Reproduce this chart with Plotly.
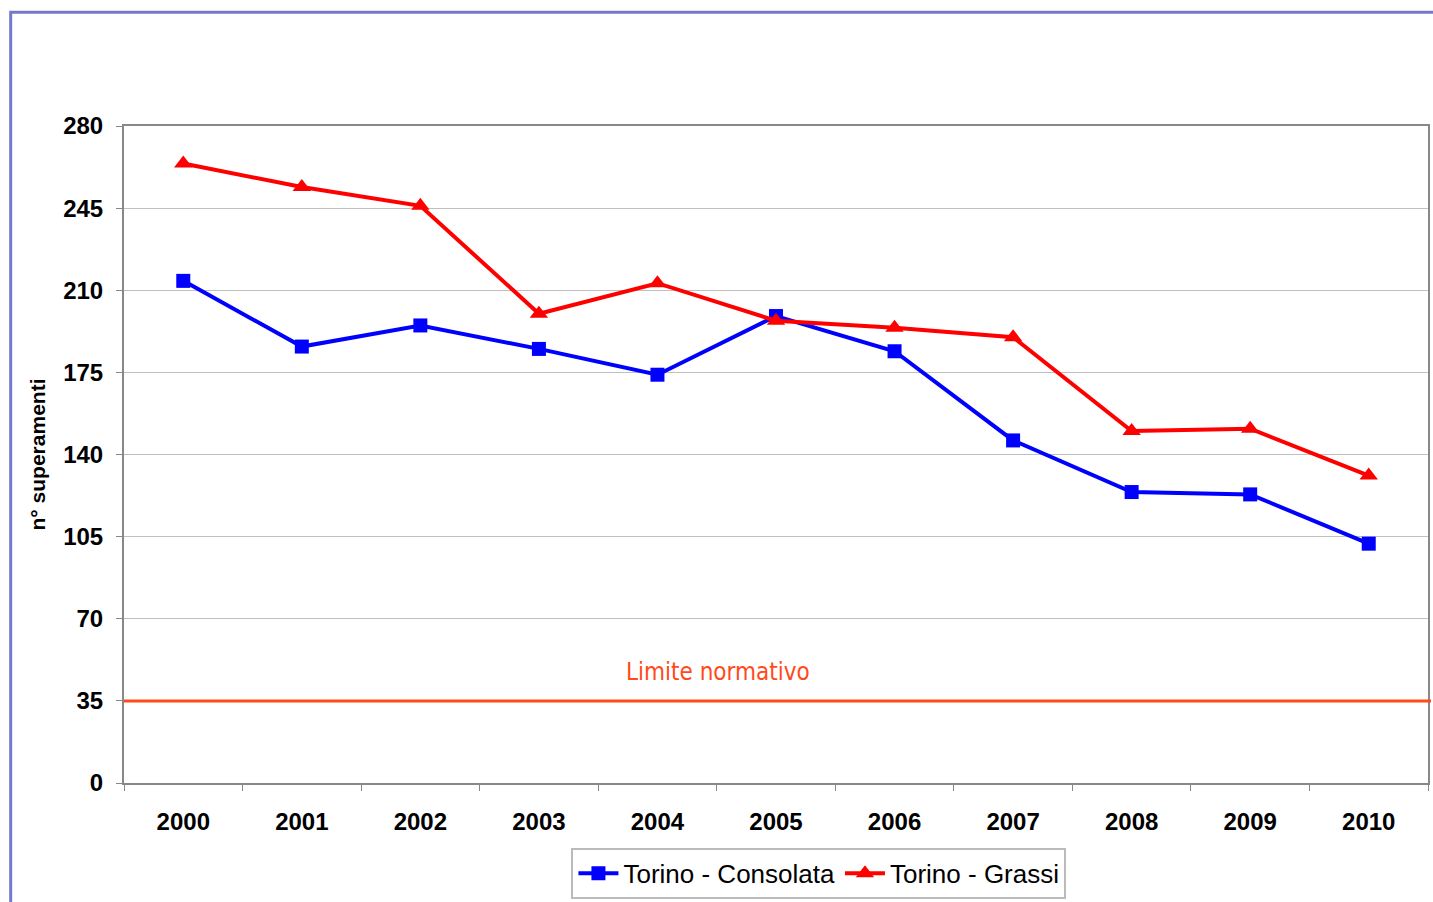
import plotly.graph_objects as go

years = ["2000", "2001", "2002", "2003", "2004", "2005", "2006", "2007", "2008", "2009", "2010"]
consolata = [214, 186, 195, 185, 174, 199, 184, 146, 124, 123, 102]
grassi = [264, 254, 246, 200, 213, 197, 194, 190, 150, 151, 131]
limite = 35
y_ticks = [0, 35, 70, 105, 140, 175, 210, 245, 280]

W, H = 1433, 902
L, R, T, B = 124, 1430, 126, 784


def px_x(x):
    return (x - L) / (R - L)


def px_y(y):
    return 1 - (y - T) / (B - T)


fig = go.Figure()
fig.add_trace(go.Scatter(
    x=years, y=consolata, mode="lines+markers", name="Torino - Consolata",
    line=dict(color="#0000FF", width=4),
    marker=dict(symbol="square", size=14, color="#0000FF"),
))
fig.add_trace(go.Scatter(
    x=years, y=grassi, mode="lines+markers", name="Torino - Grassi",
    line=dict(color="#FF0000", width=4),
    marker=dict(symbol="triangle-up", size=16, color="#FF0000"),
))

# limit line spans the full plot width
fig.add_shape(type="line", xref="paper", yref="y", x0=0, x1=px_x(1433), y0=limite, y1=limite,
              line=dict(color="#FF4A1A", width=3))
fig.add_annotation(x=px_x(719), y=px_y(673), xref="paper", yref="paper", text="Limite normativo",
                   xanchor="center", yanchor="middle", showarrow=False,
                   font=dict(family="Liberation Sans Narrow, DejaVu Sans Condensed, Liberation Sans",
                             size=24, color="#FF4A1A"))

# outer frame
fig.add_shape(type="rect", xref="paper", yref="paper", x0=px_x(10.5), x1=px_x(1445),
              y0=px_y(915), y1=px_y(12), line=dict(color="#7777CC", width=3), layer="below")

fig.update_layout(
    width=W, height=H,
    margin=dict(l=L, r=W - R, t=T, b=H - B),
    plot_bgcolor="white", paper_bgcolor="white",
    font=dict(family="Liberation Sans, Arial", color="black"),
    showlegend=True,
    legend=dict(orientation="h", x=px_x(820), y=px_y(900), xanchor="center", yanchor="bottom",
                bordercolor="#BBBBBB", borderwidth=2, font=dict(size=26, color="black"),
                itemwidth=40, tracegroupgap=0),
)
fig.update_xaxes(
    type="category", range=[-0.5, 10.5], tickson="boundaries",
    ticks="outside", ticklen=6, tickcolor="#888888", ticklabelstandoff=16,
    showline=True, linecolor="#888888", linewidth=2, mirror=True, showgrid=False,
    tickfont=dict(size=24, color="black", weight="bold"),
)
fig.update_yaxes(
    range=[0, 280], tickvals=y_ticks, ticks="outside", ticklen=6, tickcolor="#888888",
    ticklabelstandoff=8,
    showline=True, linecolor="#888888", linewidth=2, mirror=True,
    showgrid=True, gridcolor="#C0C0C0", gridwidth=1, zeroline=False,
    tickfont=dict(size=24, color="black", weight="bold"),
    title=dict(text="n° superamenti", font=dict(size=21, weight="bold"), standoff=12),
)

fig.write_html("out.html", config={"displayModeBar": False},
               post_script="document.body.style.margin='0';")
